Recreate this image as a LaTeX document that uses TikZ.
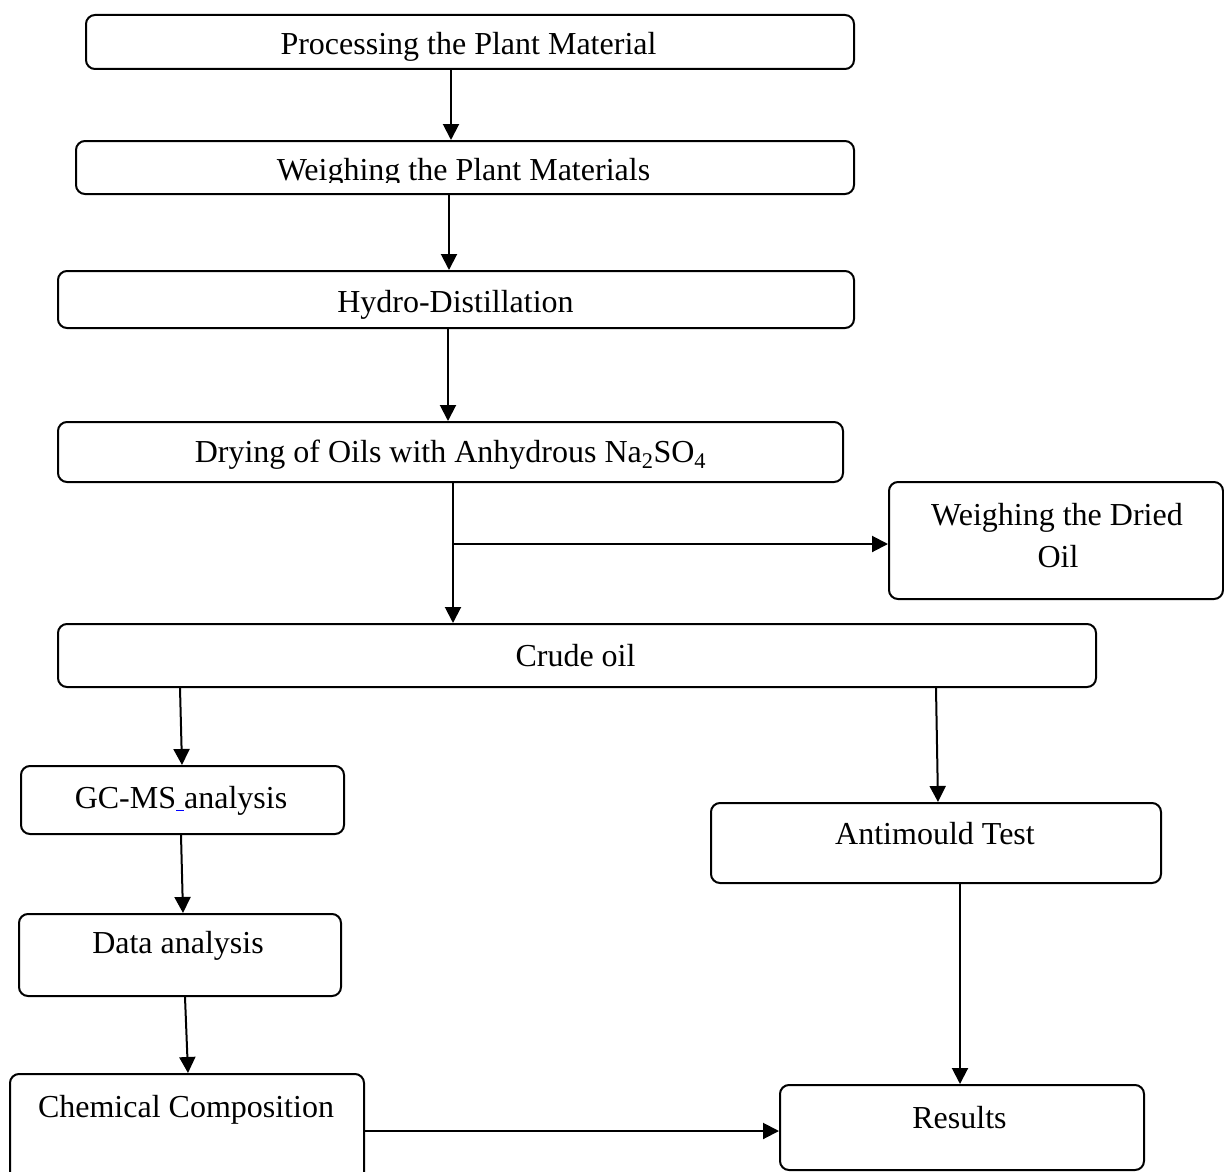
\documentclass[tikz,border=0pt]{standalone}
\usepackage{fontspec}
\setmainfont{Liberation Serif}
\usetikzlibrary{arrows.meta,calc}
\begin{document}
\begin{tikzpicture}[x=1pt,y=-1pt,
  box/.style={draw,line width=2pt,rounded corners=9pt,inner sep=0pt,anchor=north west},
  lbl/.style={anchor=base,inner sep=0pt,font=\fontsize{32}{42}\selectfont},
  arr/.style={line width=2pt,-{Triangle[length=16pt,width=16pt]}}]
\useasboundingbox[fill=white] (0,0) rectangle (1224,1172);
% boxes
\node[box,minimum width=768pt,minimum height=54pt] (b1) at (85,14) {};
\node[box,minimum width=778pt,minimum height=53pt] (b2) at (75,140) {};
\node[box,minimum width=796pt,minimum height=57pt] (b3) at (57,270) {};
\node[box,minimum width=785pt,minimum height=60pt] (b4) at (57,421) {};
\node[box,minimum width=334pt,minimum height=117pt] (b5) at (888,481) {};
\node[box,minimum width=1038pt,minimum height=63pt] (b6) at (57,623) {};
\node[box,minimum width=323pt,minimum height=68pt] (b7) at (20,765) {};
\node[box,minimum width=322pt,minimum height=82pt] (b8) at (18,913) {};
\node[box,minimum width=354pt,minimum height=110pt] (b9) at (9,1073) {};
\node[box,minimum width=364pt,minimum height=85pt] (b10) at (779,1084) {};
\node[box,minimum width=450pt,minimum height=80pt] (b11) at (710,802) {};
% labels
\begin{scope}
\clip (85,14) rectangle (853,61);
\node[lbl] (t1) at (468.5,55) {Processing the Plant Material};
\end{scope}
\begin{scope}
\clip (75,140) rectangle (853,182.5);
\node[lbl] (t2) at (463.5,180) {Weighing the Plant Materials};
\end{scope}
\node[lbl] (t3) at (455.5,312) {Hydro-Distillation};
\node[lbl] (t4) at (450.5,462) {Drying of Oils with Anhydrous Na\textsubscript{2}SO\textsubscript{4}};
\node[lbl] (t5a) at (1057,525) {Weighing the Dried};
\node[lbl] (t5b) at (1058,567) {Oil};
\node[lbl] (t6) at (575.5,666) {Crude oil};
\node[lbl] (t7) at (181,808) {GC-MS{\color{blue}\rule[-3pt]{8pt}{1.3pt}}analysis};
\node[lbl] (t8) at (178,953) {Data analysis};
\node[lbl] (t9) at (186,1117) {Chemical Composition};
\node[lbl] (t10) at (959.5,1128) {Results};
\node[lbl] (t11) at (935,844) {Antimould Test};
% helper coordinates
\coordinate (x451) at (451,0);
\coordinate (x449) at (449,0);
\coordinate (x448) at (448,0);
\coordinate (x453) at (453,0);
\coordinate (br) at (453,544);
\coordinate (x180) at (180,0);
\coordinate (x182) at (182,0);
\coordinate (x181) at (181,0);
\coordinate (x183) at (183,0);
\coordinate (x185) at (185,0);
\coordinate (x188) at (188,0);
\coordinate (y1131) at (0,1131);
\coordinate (x936) at (936,0);
\coordinate (x938) at (938,0);
\coordinate (x960) at (960,0);
% connectors
\draw[arr] (b1.south -| x451) -- (b2.north -| x451);
\draw[arr] (b2.south -| x449) -- (b3.north -| x449);
\draw[arr] (b3.south -| x448) -- (b4.north -| x448);
\draw[arr] (b4.south -| x453) -- (b6.north -| x453);
\draw[arr] (br) -- (b5.west |- br);
\draw[arr] (b6.south -| x180) -- (b7.north -| x182);
\draw[arr] (b7.south -| x181) -- (b8.north -| x183);
\draw[arr] (b8.south -| x185) -- (b9.north -| x188);
\draw[arr] (b9.east |- y1131) -- (b10.west |- y1131);
\draw[arr] (b6.south -| x936) -- (b11.north -| x938);
\draw[arr] (b11.south -| x960) -- (b10.north -| x960);
\end{tikzpicture}
\end{document}
